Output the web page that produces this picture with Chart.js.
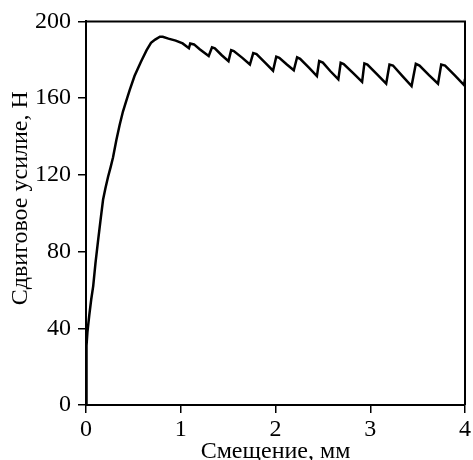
<!DOCTYPE html>
<html>
<head>
<meta charset="utf-8">
<script src="https://cdn.jsdelivr.net/npm/chart.js@4"></script>
<style>
  html, body { margin: 0; padding: 0; background: #fff; }
  #wrap { width: 473px; height: 460px; }
</style>
</head>
<body>
<div id="wrap"><canvas id="shearChart"></canvas></div>
<script>
// displacement, mm
const displacement = [
    0, 0.003, 0.005, 0.008, 0.015, 0.035, 0.055, 0.076, 0.1, 0.128,
    0.155, 0.18, 0.205, 0.233, 0.26, 0.285, 0.32, 0.355, 0.39, 0.425,
    0.46, 0.512, 0.58, 0.64, 0.686, 0.73, 0.78, 0.81, 0.87, 0.947,
    1.02, 1.086, 1.1, 1.14, 1.2, 1.295, 1.33, 1.36, 1.43, 1.504,
    1.532, 1.56, 1.65, 1.73, 1.765, 1.8, 1.89, 1.974, 2.008, 2.04,
    2.12, 2.193, 2.228, 2.26, 2.35, 2.437, 2.461, 2.5, 2.58, 2.663,
    2.688, 2.72, 2.82, 2.914, 2.938, 2.97, 3.07, 3.168, 3.203, 3.24,
    3.34, 3.436, 3.481, 3.52, 3.62, 3.715, 3.749, 3.79, 3.89, 3.99,
    4.0
];
// shear force, N
const shearForce = [
    0, 22, 36, 31, 38, 47, 55, 62, 74, 86,
    97, 107, 113, 119, 124, 129, 138, 146, 153, 158.5,
    164, 171.5, 179, 185, 188.8, 190.5, 192, 192, 191, 190,
    188.5, 186, 188.5, 188, 185.5, 182, 186.5, 186, 182.5, 179.3,
    185, 184.5, 181, 177.5, 183.5, 183, 178.5, 174.3, 181.6, 181,
    177.5, 174.5, 181.3, 180.5, 176, 171.5, 179.3, 178.5, 174, 169.8,
    178.4, 177.8, 173, 168.5, 178.1, 177.5, 172.5, 167.5, 177.5, 177,
    171.5, 166.3, 177.9, 177, 172, 167.5, 177.5, 177, 172, 166.8,
    170
];
const xTicks = [0, 1, 2, 3, 4];
const yTicks = [0, 40, 80, 120, 160, 200];

const fontFamily = '"Liberation Serif", "Times New Roman", serif';

// top and right frame lines
const frameLines = {
    id: 'frameLines',
    afterDraw(chart) {
        const { ctx, chartArea } = chart;
        ctx.save();
        ctx.strokeStyle = '#000';
        ctx.lineWidth = 2;
        ctx.beginPath();
        ctx.moveTo(chartArea.left, chartArea.top);
        ctx.lineTo(chartArea.right, chartArea.top);
        ctx.lineTo(chartArea.right, chartArea.bottom);
        ctx.stroke();
        ctx.restore();
    }
};

function initShearChart() {
    const ctx = document.getElementById('shearChart');
    const points = displacement.map((x, i) => ({ x: x, y: shearForce[i] }));

    new Chart(ctx.getContext('2d'), {
        type: 'line',
        data: {
            datasets: [{
                data: points,
                borderColor: '#000',
                borderWidth: 2.5,
                pointRadius: 0,
                tension: 0,
                fill: false
            }]
        },
        options: {
            responsive: true,
            maintainAspectRatio: false,
            animation: false,
            layout: { padding: { top: 21, right: 3, left: 0, bottom: 0 } },
            plugins: {
                legend: { display: false },
                tooltip: { enabled: false }
            },
            scales: {
                x: {
                    type: 'linear',
                    min: 0,
                    max: 4,
                    afterFit(scale) { scale.height = 55; },
                    afterBuildTicks(scale) { scale.ticks = xTicks.map(v => ({ value: v })); },
                    grid: { drawOnChartArea: false, drawTicks: true, tickLength: 8, color: '#000', lineWidth: 1.5 },
                    border: { color: '#000', width: 2 },
                    ticks: { color: '#000', padding: 2, font: { family: fontFamily, size: 24 } },
                    title: {
                        display: true,
                        text: 'Смещение, мм',
                        color: '#000',
                        padding: 0,
                        font: { family: fontFamily, size: 24, lineHeight: 0.7 }
                    }
                },
                y: {
                    min: 0,
                    max: 200,
                    afterFit(scale) { scale.width = 86; },
                    afterBuildTicks(scale) { scale.ticks = yTicks.map(v => ({ value: v })); },
                    grid: { drawOnChartArea: false, drawTicks: true, tickLength: 8, color: '#000', lineWidth: 1.5 },
                    border: { color: '#000', width: 2 },
                    ticks: { color: '#000', padding: 7, font: { family: fontFamily, size: 24 } },
                    title: {
                        display: true,
                        text: '     Сдвиговое усилие, Н',
                        color: '#000',
                        padding: { top: 11, bottom: 0 },
                        font: { family: fontFamily, size: 24, lineHeight: 0.8 }
                    }
                }
            }
        },
        plugins: [frameLines]
    });
}

document.addEventListener('DOMContentLoaded', initShearChart);
</script>
</body>
</html>
